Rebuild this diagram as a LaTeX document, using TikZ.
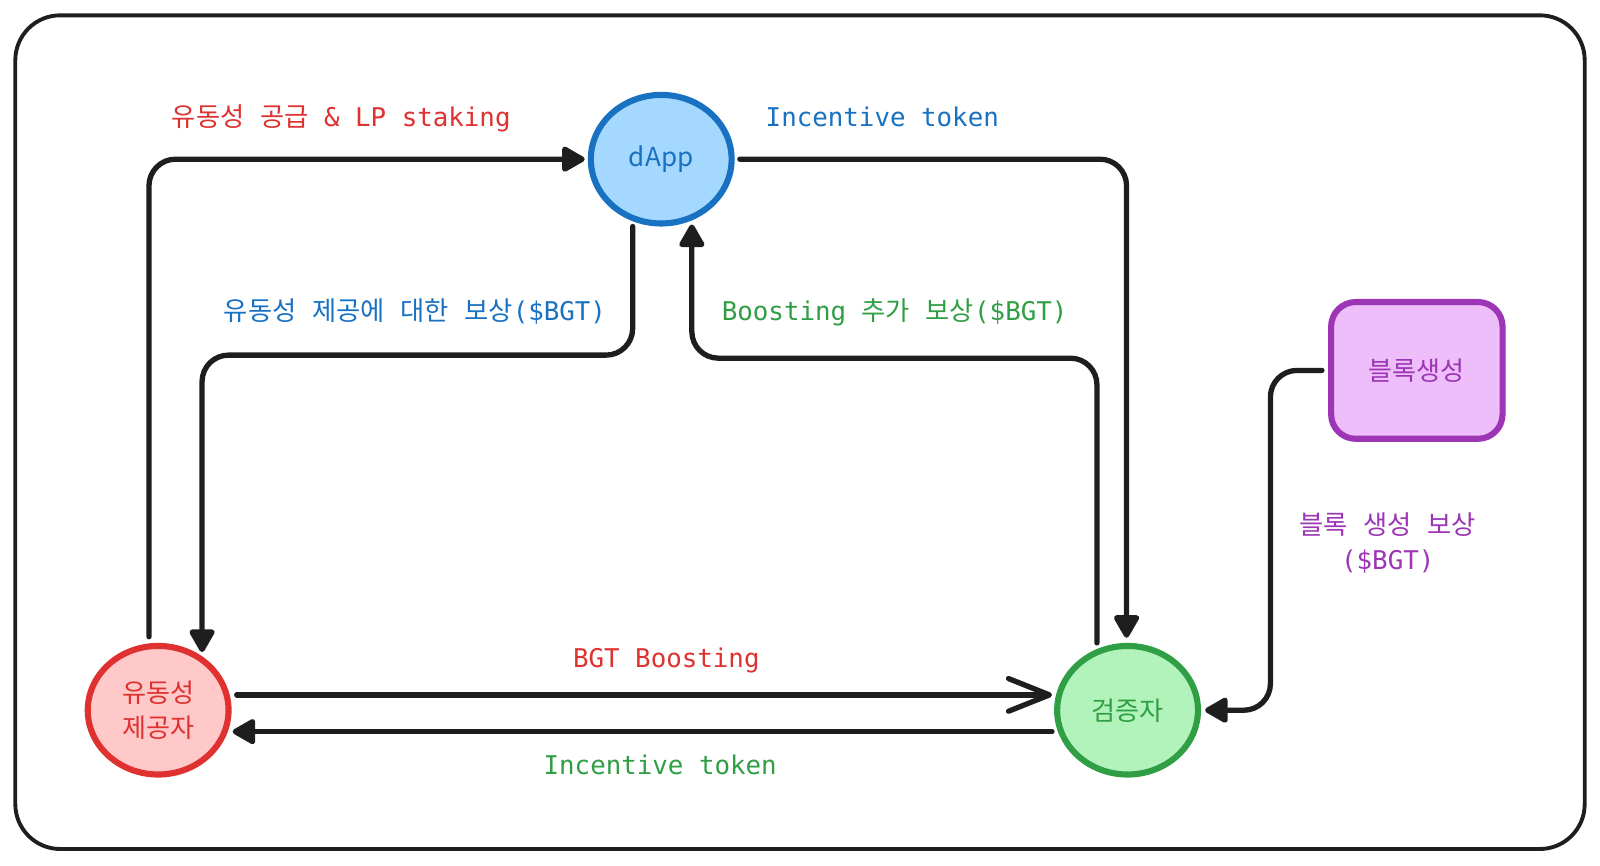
\documentclass[tikz,border=0pt]{standalone}
\usepackage{fontspec}
\newfontfamily\kr[Scale=1.02]{Noto Sans CJK KR}
\newfontfamily\monofnt{DejaVu Sans Mono}
\newfontfamily\nodefnt{Noto Sans CJK KR}
\usetikzlibrary{arrows.meta,shapes.geometric,calc}
\definecolor{ink}{HTML}{1E1E1E}
\definecolor{cred}{HTML}{E03131}
\definecolor{credfill}{HTML}{FFC9C9}
\definecolor{cblue}{HTML}{1971C2}
\definecolor{cbluefill}{HTML}{A5D8FF}
\definecolor{cgreen}{HTML}{2F9E44}
\definecolor{cgreenfill}{HTML}{B2F2BB}
\definecolor{cpurple}{HTML}{9C36B5}
\definecolor{cpurplefill}{HTML}{EEBEFA}
\newcommand{\K}[1]{{\kr #1}}
\begin{document}
\begin{tikzpicture}[x=0.5pt,y=-0.5pt,
  arr/.style={draw=ink, line width=2.6pt, line cap=round, line join=round, rounded corners=13pt, -{Triangle[length=12.5pt,width=13.5pt,round]}},
  openarr/.style={draw=ink, line width=2.6pt, line cap=round, -{Straight Barb[length=20pt,width=16pt,round]}},
  circ/.style={ellipse, line width=3pt, minimum width=69pt, minimum height=63pt, inner sep=0pt, align=center, font=\nodefnt\fontsize{12.8pt}{17pt}\selectfont},
  lab/.style={inner sep=0pt, align=center, font=\monofnt\fontsize{12.65pt}{17.5pt}\selectfont},
]
\useasboundingbox (0,0) rectangle (1568,848);
\draw[ink, line width=1.9pt, rounded corners=22pt] (15,15) rectangle (1553,832);

\node[circ, draw=cblue, fill=cbluefill, text=cblue] (dapp) at (648,156) {dApp};
\node[circ, draw=cred, fill=credfill, text=cred] (lp) at (155,696) {유동성\\제공자};
\node[circ, draw=cgreen, fill=cgreenfill, text=cgreen] (val) at (1105,696) {검증자};
\node[rectangle, rounded corners=12pt, line width=3pt, draw=cpurple, fill=cpurplefill, text=cpurple,
      minimum width=84pt, minimum height=67pt, font=\nodefnt\fontsize{12.8pt}{17pt}\selectfont] (blk) at (1388.5,363) {블록생성};

\draw[arr, shorten >=1.5pt] ($(lp.center)+(-9,-72)$) |- (dapp.west);
\draw[arr] ($(dapp.center)+(-28,66)$) -- ++(0,126) -| ($(lp.center)+(43,-57)$);
\draw[arr] ($(val.center)+(-30,-66)$) |- ($(dapp.center)+(30,195)$) -- ($(dapp.center)+(30,64)$);
\draw[arr] ($(dapp.east)+(5,0)$) -| ($(val.center)+(-1,-71)$);
\draw[openarr] ($(lp.center)+(77,-15)$) -- ($(val.center)+(-74,-15)$);
\draw[arr] ($(val.center)+(-74,21)$) -- ($(lp.center)+(73,21)$);
\draw[arr] ($(blk.west)+(-6,0)$) -| ($(val.center)+(140,0)$) -- ($(val.center)+(76,0)$);

\node[lab, text=cred, anchor=west] (l1) at (168,116) {\K{유동성} \K{공급} \& LP staking};
\node[lab, text=cblue, anchor=west] (l2) at (750,115) {Incentive token};
\node[lab, text=cblue, anchor=west] (l3) at (219,305) {\K{유동성} \K{제공에} \K{대한} \K{보상}(\$BGT)};
\node[lab, text=cgreen, anchor=west] (l4) at (707,306) {Boosting \K{추가} \K{보상}(\$BGT)};
\node[lab, text=cred] (l5) at (653,647) {BGT Boosting};
\node[lab, text=cgreen] (l6) at (647,750) {Incentive token};
\node[lab, text=cpurple] (l7) at (1360,532) {\K{블록} \K{생성} \K{보상}\\(\$BGT)};
\end{tikzpicture}
\end{document}
